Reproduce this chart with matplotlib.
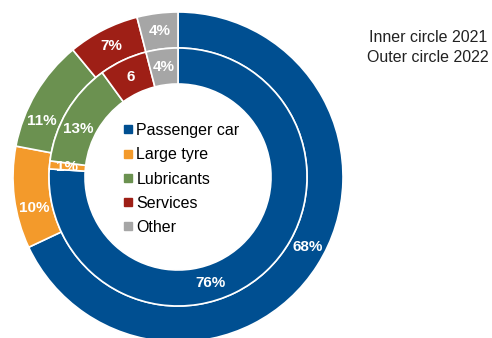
import numpy as np
import matplotlib
matplotlib.use("Agg")
import matplotlib.pyplot as plt
from matplotlib.lines import Line2D

plt.rcParams['font.family'] = ['Liberation Sans', 'DejaVu Sans']

categories = ['Passenger car', 'Large tyre', 'Lubricants', 'Services', 'Other']
share_2021 = [76, 1, 13, 6, 4]    # inner circle
share_2022 = [68, 10, 11, 7, 4]   # outer circle
labels_2021 = ['76%', '1%', '13%', '6', '4%']
labels_2022 = ['68%', '10%', '11%', '7%', '4%']
colors = ['#004F91', '#F39A2B', '#6B9150', '#9E1F16', '#A6A6A6']

W, H = 492, 338
fig = plt.figure(figsize=(W / 100, H / 100), dpi=100)
ax = fig.add_axes([0, 0, 1, 1])

cx, cy = 178, H - 177
r_out, r_in, ring = 165, 129, 36

outer, _ = ax.pie(share_2022, radius=r_out, center=(cx, cy), colors=colors,
                  startangle=90, counterclock=False,
                  wedgeprops=dict(width=ring, edgecolor='white', linewidth=1.2))
inner, _ = ax.pie(share_2021, radius=r_in, center=(cx, cy), colors=colors,
                  startangle=90, counterclock=False,
                  wedgeprops=dict(width=ring, edgecolor='white', linewidth=1.2))


def put_labels(wedges, texts, r, shift=None):
    shift = shift or {}
    for i, (w, t) in enumerate(zip(wedges, texts)):
        ang = np.deg2rad((w.theta1 + w.theta2) / 2 + shift.get(i, 0))
        ax.text(cx + r * np.cos(ang), cy + r * np.sin(ang), t,
                ha='center', va='center', color='white',
                fontsize=11, fontweight='bold')


put_labels(outer, labels_2022, r_out - ring / 2, {0: 4, 2: 8, 1: 5})
put_labels(inner, labels_2021, r_in - ring / 2, {0: -26, 2: 5})

ax.set_xlim(0, W)
ax.set_ylim(0, H)
ax.set_aspect('equal')
ax.axis('off')

handles = [Line2D([], [], marker='s', linestyle='none', color=c, markersize=5.5)
           for c in colors]
fig.legend(handles, categories, loc='upper left',
           bbox_to_anchor=(122 / W, 1 - 123 / H), frameon=False,
           fontsize=11.5, labelspacing=0.58, handletextpad=0.1,
           handlelength=0.8, borderpad=0, borderaxespad=0)

fig.text(428 / W, 1 - 37 / H, 'Inner circle 2021', ha='center', va='center',
         fontsize=11.5, color='#222222')
fig.text(428 / W, 1 - 57 / H, 'Outer circle 2022', ha='center', va='center',
         fontsize=11.5, color='#222222')

fig.savefig('out.png', dpi=100)
